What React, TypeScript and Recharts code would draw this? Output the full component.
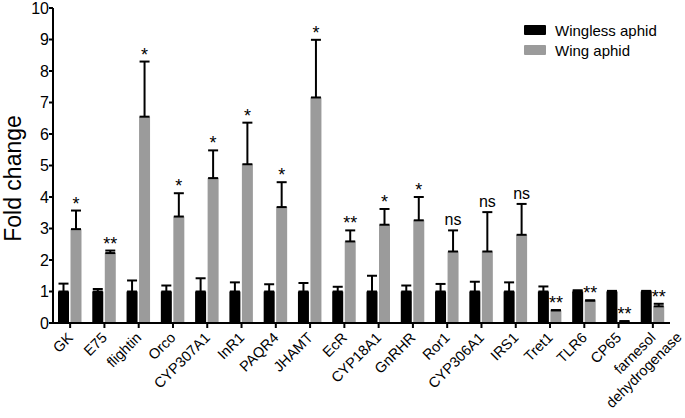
import React from "react";
import { BarChart, Bar, XAxis, YAxis, ErrorBar, LabelList, Legend } from "recharts";

const FONT = '"Liberation Sans", Arial, sans-serif';

const genes = [
  "GK", "E75", "flightin", "Orco", "CYP307A1", "InR1", "PAQR4", "JHAMT", "EcR",
  "CYP18A1", "GnRHR", "Ror1", "CYP306A1", "IRS1", "Tret1", "TLR6", "CP65",
  "farnesol\ndehydrogenase",
];
const wingless = [1, 1, 1, 1, 1, 1, 1, 1, 1, 1, 1, 1, 1, 1, 1, 1, 1, 1];
const winglessErr = [0.25, 0.08, 0.35, 0.19, 0.42, 0.29, 0.23, 0.27, 0.15, 0.5, 0.19, 0.24, 0.31, 0.29, 0.16, 0.04, 0.02, 0.02];
const wing = [2.98, 2.22, 6.55, 3.38, 4.6, 5.04, 3.68, 7.16, 2.59, 3.12, 3.26, 2.27, 2.27, 2.8, 0.4, 0.71, 0.05, 0.53];
const wingErr = [0.59, 0.08, 1.75, 0.74, 0.88, 1.32, 0.79, 1.83, 0.35, 0.5, 0.74, 0.67, 1.25, 0.98, 0.01, 0.01, 0.01, 0.08];
const signif = ["*", "**", "*", "*", "*", "*", "*", "*", "**", "*", "*", "ns", "ns", "ns", "**", "**", "**", "**"];
const yTicks = [0, 1, 2, 3, 4, 5, 6, 7, 8, 9, 10];

const data = genes.map((g, i) => ({
  gene: g,
  wingless: wingless[i],
  winglessErr: [0, winglessErr[i]],
  wing: wing[i],
  wingErr: [0, wingErr[i]],
}));

const GeneTick = ({ x, y, payload }: any) => {
  const lines = String(payload.value).split("\n");
  return (
    <g transform={`translate(${x},${y + 5})`}>
      <text transform="rotate(-45)" textAnchor="end" fontSize={14.5} fontFamily={FONT} fill="#000">
        {lines.map((l, i) => (
          <tspan key={i} x={i * 19} dy={i === 0 ? "0.35em" : "1.25em"}>
            {l}
          </tspan>
        ))}
      </text>
    </g>
  );
};

const SignifLabel = ({ x, y, width, height, value, index }: any) => {
  const perUnit = value ? height / value : 0;
  const top = y - wingErr[index] * perUnit;
  const isNs = signif[index] === "ns";
  return (
    <text
      x={x + width / 2}
      y={isNs ? top - 5 : top - 1}
      textAnchor="middle"
      fontSize={isNs ? 16 : 18}
      fontFamily={FONT}
      fill="#000"
    >
      {signif[index]}
    </text>
  );
};

const LegendBox = () => (
  <div style={{ fontFamily: FONT, fontSize: 15, color: "#000" }}>
    {[
      { name: "Wingless aphid", color: "#000" },
      { name: "Wing aphid", color: "#9b9b9b" },
    ].map((it) => (
      <div key={it.name} style={{ display: "flex", alignItems: "center", height: 20 }}>
        <span style={{ width: 22, height: 10, background: it.color, marginRight: 9, borderRadius: 1 }} />
        <span>{it.name}</span>
      </div>
    ))}
  </div>
);

export default function App() {
  return (
    <div style={{ position: "absolute", left: 0, top: 0, background: "#fff" }}>
      <BarChart
        width={685}
        height={418}
        data={data}
        margin={{ top: 8, right: 15, bottom: 0, left: 0 }}
        barCategoryGap={5}
        barGap={1.5}
      >
        <XAxis
          dataKey="gene"
          interval={0}
          height={95}
          tick={<GeneTick />}
          tickSize={5}
          axisLine={{ stroke: "#000", strokeWidth: 2 }}
          tickLine={{ stroke: "#000", strokeWidth: 2 }}
        />
        <YAxis
          width={53}
          domain={[0, 10]}
          ticks={yTicks}
          interval={0}
          tickSize={4}
          tickMargin={0}
          axisLine={{ stroke: "#000", strokeWidth: 2 }}
          tickLine={{ stroke: "#000", strokeWidth: 2 }}
          tick={{ fill: "#000", fontSize: 16, fontFamily: FONT }}
          label={({ viewBox }: any) => (
            <text
              x={viewBox.x + 21}
              y={viewBox.y + viewBox.height / 2 + 13}
              transform={`rotate(-90, ${viewBox.x + 21}, ${viewBox.y + viewBox.height / 2 + 13})`}
              textAnchor="middle"
              fontSize={23}
              fontFamily={FONT}
              fill="#000"
            >
              Fold change
            </text>
          )}
        />
        <Legend
          layout="vertical"
          align="center"
          verticalAlign="middle"
          wrapperStyle={{ left: 524, top: 20, width: 160 }}
          content={<LegendBox />}
        />
        <Bar dataKey="wingless" name="Wingless aphid" fill="#000" isAnimationActive={false}>
          <ErrorBar dataKey="winglessErr" direction="y" width={5} stroke="#000" strokeWidth={2} />
        </Bar>
        <Bar dataKey="wing" name="Wing aphid" fill="#9b9b9b" isAnimationActive={false}>
          <ErrorBar dataKey="wingErr" direction="y" width={5} stroke="#000" strokeWidth={2} />
          <LabelList dataKey="wing" content={<SignifLabel />} />
        </Bar>
      </BarChart>
    </div>
  );
}
